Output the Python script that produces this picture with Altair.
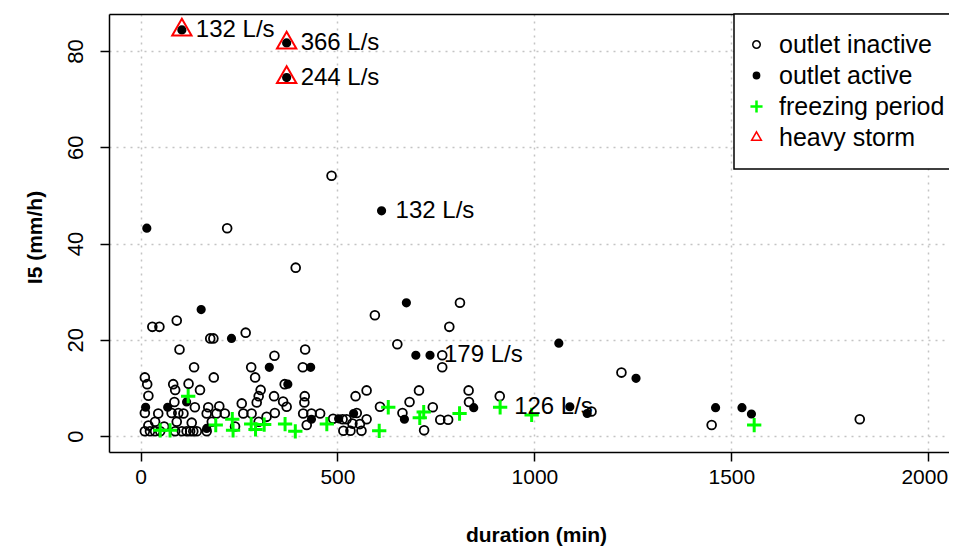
import altair as alt
import pandas as pd

# ---------------- data ----------------
inactive_x = [485, 220, 394, 595, 811, 784, 652, 766, 766, 30, 48, 92, 177, 185, 267, 99, 340, 418,
              136, 281, 412, 11, 186, 291, 1221, 1826, 1450, 17, 20, 83, 122, 88, 86, 151, 305, 300,
              295, 339, 362, 371, 366, 417, 416, 574, 546, 707, 683, 833, 834, 912, 608, 665, 742,
              720, 761, 781, 1145, 489, 513, 523, 549, 574, 515, 533, 561, 538, 557, 413, 434, 456,
              422, 341, 11, 45, 79, 96, 109, 138, 172, 168, 193, 37, 92, 130, 181, 214, 257, 261,
              282, 11, 24, 37, 50, 88, 105, 117, 126, 134, 143, 168, 300, 320, 20, 60, 240, 200]
inactive_y = [54.1, 43.2, 35.0, 25.1, 27.7, 22.7, 19.1, 16.8, 14.3, 22.7, 22.7, 24.0, 20.3, 20.3, 21.5,
              18.0, 16.7, 18.0, 14.3, 14.3, 14.3, 12.2, 12.2, 12.2, 13.2, 3.5, 2.3, 10.8, 8.4, 10.8,
              10.9, 9.6, 7.1, 9.6, 9.6, 8.3, 7.0, 8.3, 7.2, 6.1, 10.8, 8.3, 7.0, 9.5, 8.3, 9.5, 7.1,
              9.5, 7.1, 8.3, 6.1, 4.8, 6.0, 1.2, 3.4, 3.4, 5.1, 3.6, 3.5, 3.5, 4.8, 3.5, 1.1, 1.1,
              1.1, 2.6, 2.5, 4.7, 4.7, 4.7, 2.3, 4.8, 4.8, 4.7, 4.8, 4.8, 4.7, 6.0, 6.0, 4.7, 4.7,
              3.0, 3.0, 2.8, 3.0, 4.7, 6.8, 4.7, 4.7, 1.0, 1.0, 1.0, 1.0, 1.0, 1.0, 1.0, 1.0, 1.0,
              1.0, 1.0, 3.0, 4.0, 2.2, 2.0, 2.0, 6.2]

active_x = [105, 371, 371, 612, 16, 154, 231, 327, 432, 675, 699, 735, 1062, 1258, 1460, 1527, 1551,
            1090, 1134, 846, 670, 541, 503, 434, 374, 117, 13, 69, 168]
active_y = [84.4, 81.7, 74.5, 46.8, 43.2, 26.3, 20.3, 14.3, 14.3, 27.7, 16.8, 16.8, 19.3, 12.0, 5.9,
            5.9, 4.6, 6.1, 4.7, 5.9, 3.5, 4.7, 3.6, 3.5, 10.8, 7.1, 6.0, 6.0, 1.6]

freezing_x = [50, 75, 121, 191, 233, 235, 281, 292, 314, 367, 393, 473, 606, 629, 709, 719, 810, 913,
              993, 1558]
freezing_y = [1.2, 1.2, 8.3, 2.3, 3.5, 1.2, 2.5, 1.4, 2.4, 2.5, 1.0, 2.5, 1.1, 6.0, 3.8, 5.0, 4.7, 6.0,
              4.4, 2.3]

storm_x = [105, 371, 371]
storm_y = [84.4, 81.7, 74.5]

label_x = [105, 371, 371, 612, 735, 913]
label_y = [84.4, 81.7, 74.5, 46.8, 16.8, 6.0]
label_text = ["132 L/s", "366 L/s", "244 L/s", "132 L/s", "179 L/s", "126 L/s"]

categories = ["outlet inactive", "outlet active", "freezing period", "heavy storm"]
x_ticks = [0, 500, 1000, 1500, 2000]
y_ticks = [0, 20, 40, 60, 80]

# ---------------- tables ----------------
df_pts = pd.concat([
    pd.DataFrame({"x": inactive_x, "y": inactive_y, "cat": categories[0]}),
    pd.DataFrame({"x": active_x, "y": active_y, "cat": categories[1]}),
    pd.DataFrame({"x": freezing_x, "y": freezing_y, "cat": categories[2]}),
], ignore_index=True)
df_storm = pd.DataFrame({"x": storm_x, "y": storm_y, "cat": categories[3]})
df_lab = pd.DataFrame({"x": label_x, "y": label_y, "label": label_text})

# ---------------- symbols ----------------
open_circle = "M0.88,0A0.88,0.88 0 1,1 -0.88,0A0.88,0.88 0 1,1 0.88,0Z"
filled_circle = "M0.74,0A0.74,0.74 0 1,1 -0.74,0A0.74,0.74 0 1,1 0.74,0Z"
plus = ("M-1.25,-0.12L-0.12,-0.12L-0.12,-1.25L0.12,-1.25L0.12,-0.12L1.25,-0.12L1.25,0.12"
        "L0.12,0.12L0.12,1.25L-0.12,1.25L-0.12,0.12L-1.25,0.12Z")
triangle = "M0,-1.33L1.15,0.665L-1.15,0.665Z"

FONT = "Liberation Sans"

xs = alt.Scale(domain=[-80, 2052.6], nice=False, zero=False)
ys = alt.Scale(domain=[-3.3, 87.7], nice=False, zero=False)

shape_scale = alt.Scale(domain=categories, range=[open_circle, filled_circle, plus, triangle])
stroke_scale = alt.Scale(domain=categories, range=["black", "black", "#00ff00", "#ff0000"])
fill_scale = alt.Scale(domain=categories, range=["transparent", "black", "#00ff00", "transparent"])

legend = alt.Legend(title=None, orient="none", legendX=625, legendY=0, padding=18,
                    strokeColor="black", fillColor="white", labelFontSize=25, labelFont=FONT,
                    labelColor="black", rowPadding=5, symbolSize=72, labelOffset=10,
                    symbolOffset=-8, labelLimit=0, symbolStrokeWidth=1.5)

enc_common = dict(
    shape=alt.Shape("cat:N", scale=shape_scale, legend=legend),
    stroke=alt.Stroke("cat:N", scale=stroke_scale, legend=legend),
    fill=alt.Fill("cat:N", scale=fill_scale, legend=legend),
)

x_axis = alt.Axis(values=x_ticks, format="d", title="duration (min)", labelPadding=5,
                  labelFontSize=21,
                  labelOffset={"condition": {"test": "datum.value === 2000", "value": -4}, "value": 0},
                  titleY=93, titleX=427, titleBaseline="bottom", grid=True)
y_axis = alt.Axis(values=y_ticks, format="d", title="I5 (mm/h)", labelAngle=270, labelAlign="center",
                  labelBaseline="bottom", labelPadding=13, titleX=-74, titleY=223,
                  titleAlign="center", titleBaseline="middle", grid=True)
top_axis = alt.Axis(orient="top", labels=False, ticks=False, grid=False, domain=True, title=None)

points = alt.Chart(df_pts).mark_point(size=100, strokeWidth=1.8, opacity=1).encode(
    x=alt.X("x:Q", scale=xs, axis=x_axis),
    y=alt.Y("y:Q", scale=ys, axis=y_axis),
    **enc_common,
)

storm = alt.Chart(df_storm).mark_point(size=282, strokeWidth=2, opacity=1).encode(
    x=alt.X("x:Q", scale=xs, axis=top_axis),
    y=alt.Y("y:Q", scale=ys, axis=y_axis),
    **enc_common,
)

labels = alt.Chart(df_lab).mark_text(align="left", baseline="middle", dx=14, fontSize=24,
                                     font=FONT, color="black").encode(
    x=alt.X("x:Q", scale=xs, axis=None),
    y=alt.Y("y:Q", scale=ys, axis=y_axis),
    text="label:N",
)

chart = alt.layer(points, storm, labels).resolve_axis(x="independent").properties(
    width=840, height=438,
    autosize=alt.AutoSizeParams(type="none"),
    padding={"left": 101, "top": 6, "right": 0, "bottom": 95},
    background="white",
).configure_view(stroke="transparent").configure_axis(
    labelFont=FONT, labelFontSize=22, labelColor="black",
    tickColor="black", tickWidth=1.5, tickSize=9,
    domainColor="black", domainWidth=1.5,
    gridColor="#c4c4c4", gridDash=[2, 5], gridWidth=1.5,
    titleFont=FONT, titleFontSize=21, titleFontWeight="bold", titleColor="black",
).configure_legend(strokeWidth=1.5)

chart.save("out.html", embed_options={"renderer": "svg", "actions": False})
